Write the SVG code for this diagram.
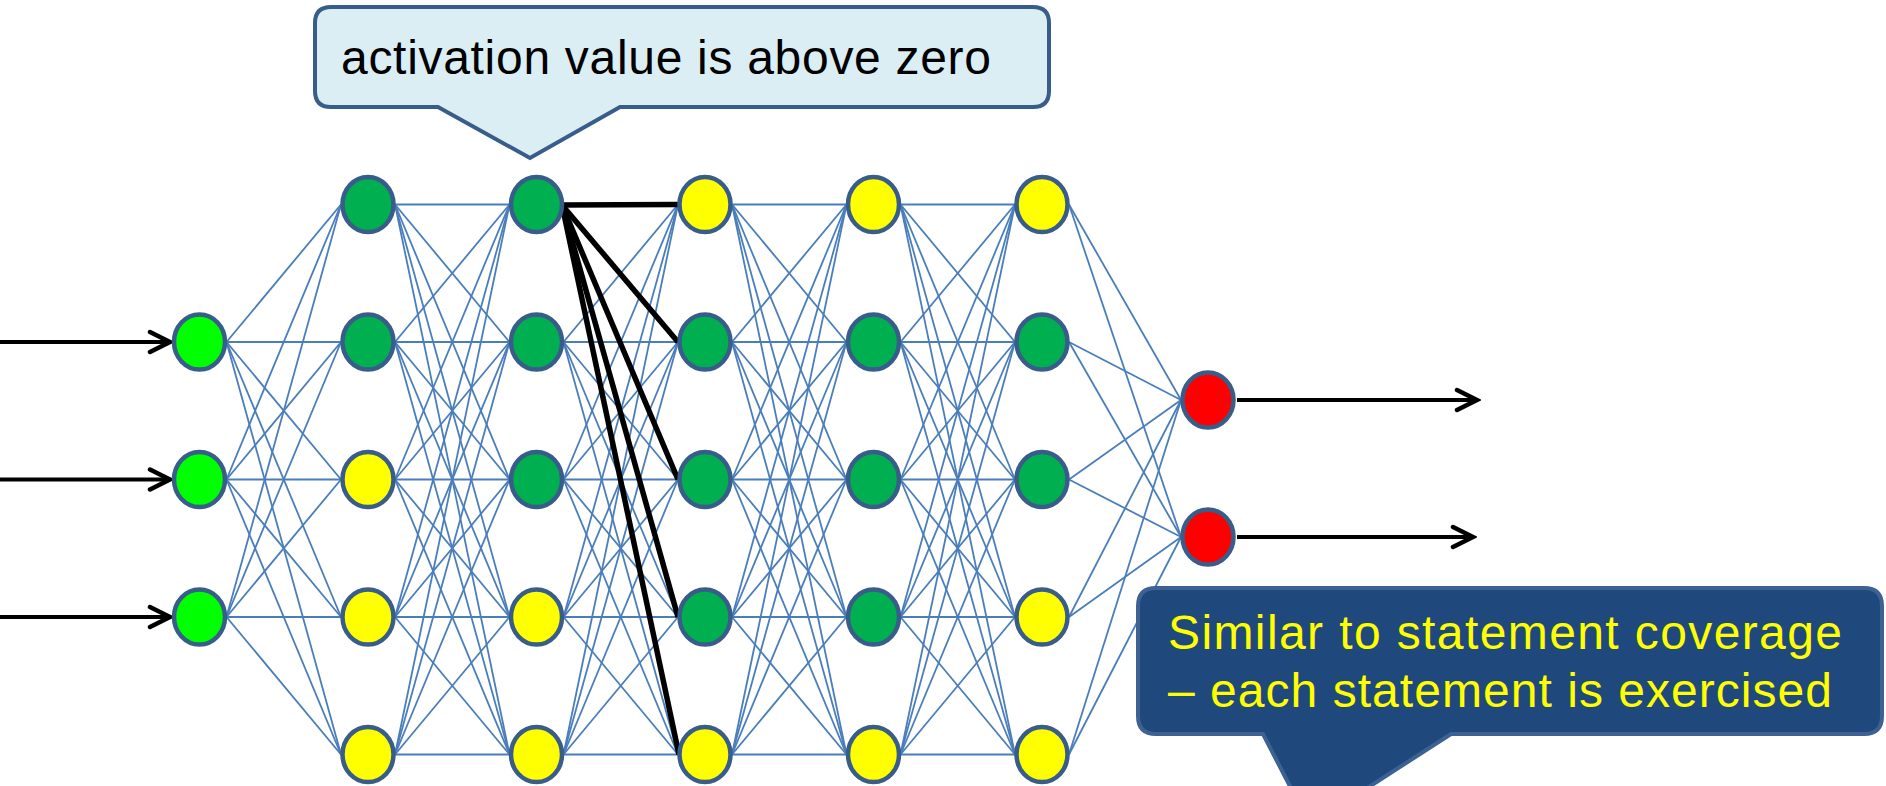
<svg xmlns="http://www.w3.org/2000/svg" width="1886" height="786" viewBox="0 0 1886 786">
<style>
.c line{stroke:#4a7ebb;stroke-width:1.8}
.k line{stroke:#000;stroke-width:5.5}
.n{stroke:#385d8a;stroke-width:4.5}
.in{fill:#00ff00}.dg{fill:#00b050}.ye{fill:#ffff00}.rd{fill:#ff0000}
.a{stroke:#000;stroke-width:4;fill:none}
.t{font-family:"Liberation Sans","DejaVu Sans",sans-serif;font-size:48px}
</style>
<defs>
<marker id="arr" viewBox="-26 -15 30 30" refX="0" refY="0" markerWidth="30" markerHeight="30" markerUnits="userSpaceOnUse" orient="auto">
<path d="M-20,-10 L0,0 L-20,10" fill="none" stroke="#000" stroke-width="4.5" stroke-linecap="round"/>
</marker>
</defs>
<rect width="1886" height="786" fill="#fff"/>
<g id="connectors">
<g class="c">
<line x1="226.5" y1="342" x2="341" y2="204.5"/><line x1="226.5" y1="342" x2="341" y2="342"/><line x1="226.5" y1="342" x2="341" y2="479.5"/><line x1="226.5" y1="342" x2="341" y2="617"/><line x1="226.5" y1="342" x2="341" y2="754.5"/>
<line x1="226.5" y1="479.5" x2="341" y2="204.5"/><line x1="226.5" y1="479.5" x2="341" y2="342"/><line x1="226.5" y1="479.5" x2="341" y2="479.5"/><line x1="226.5" y1="479.5" x2="341" y2="617"/><line x1="226.5" y1="479.5" x2="341" y2="754.5"/>
<line x1="226.5" y1="617" x2="341" y2="204.5"/><line x1="226.5" y1="617" x2="341" y2="342"/><line x1="226.5" y1="617" x2="341" y2="479.5"/><line x1="226.5" y1="617" x2="341" y2="617"/><line x1="226.5" y1="617" x2="341" y2="754.5"/>

<line x1="395" y1="204.5" x2="509.5" y2="204.5"/><line x1="395" y1="204.5" x2="509.5" y2="342"/><line x1="395" y1="204.5" x2="509.5" y2="479.5"/><line x1="395" y1="204.5" x2="509.5" y2="617"/><line x1="395" y1="204.5" x2="509.5" y2="754.5"/>
<line x1="395" y1="342" x2="509.5" y2="204.5"/><line x1="395" y1="342" x2="509.5" y2="342"/><line x1="395" y1="342" x2="509.5" y2="479.5"/><line x1="395" y1="342" x2="509.5" y2="617"/><line x1="395" y1="342" x2="509.5" y2="754.5"/>
<line x1="395" y1="479.5" x2="509.5" y2="204.5"/><line x1="395" y1="479.5" x2="509.5" y2="342"/><line x1="395" y1="479.5" x2="509.5" y2="479.5"/><line x1="395" y1="479.5" x2="509.5" y2="617"/><line x1="395" y1="479.5" x2="509.5" y2="754.5"/>
<line x1="395" y1="617" x2="509.5" y2="204.5"/><line x1="395" y1="617" x2="509.5" y2="342"/><line x1="395" y1="617" x2="509.5" y2="479.5"/><line x1="395" y1="617" x2="509.5" y2="617"/><line x1="395" y1="617" x2="509.5" y2="754.5"/>
<line x1="395" y1="754.5" x2="509.5" y2="204.5"/><line x1="395" y1="754.5" x2="509.5" y2="342"/><line x1="395" y1="754.5" x2="509.5" y2="479.5"/><line x1="395" y1="754.5" x2="509.5" y2="617"/><line x1="395" y1="754.5" x2="509.5" y2="754.5"/>

<line x1="563.5" y1="342" x2="678" y2="204.5"/><line x1="563.5" y1="342" x2="678" y2="342"/><line x1="563.5" y1="342" x2="678" y2="479.5"/><line x1="563.5" y1="342" x2="678" y2="617"/><line x1="563.5" y1="342" x2="678" y2="754.5"/>
<line x1="563.5" y1="479.5" x2="678" y2="204.5"/><line x1="563.5" y1="479.5" x2="678" y2="342"/><line x1="563.5" y1="479.5" x2="678" y2="479.5"/><line x1="563.5" y1="479.5" x2="678" y2="617"/><line x1="563.5" y1="479.5" x2="678" y2="754.5"/>
<line x1="563.5" y1="617" x2="678" y2="204.5"/><line x1="563.5" y1="617" x2="678" y2="342"/><line x1="563.5" y1="617" x2="678" y2="479.5"/><line x1="563.5" y1="617" x2="678" y2="617"/><line x1="563.5" y1="617" x2="678" y2="754.5"/>
<line x1="563.5" y1="754.5" x2="678" y2="204.5"/><line x1="563.5" y1="754.5" x2="678" y2="342"/><line x1="563.5" y1="754.5" x2="678" y2="479.5"/><line x1="563.5" y1="754.5" x2="678" y2="617"/><line x1="563.5" y1="754.5" x2="678" y2="754.5"/>

<line x1="732" y1="204.5" x2="846.5" y2="204.5"/><line x1="732" y1="204.5" x2="846.5" y2="342"/><line x1="732" y1="204.5" x2="846.5" y2="479.5"/><line x1="732" y1="204.5" x2="846.5" y2="617"/><line x1="732" y1="204.5" x2="846.5" y2="754.5"/>
<line x1="732" y1="342" x2="846.5" y2="204.5"/><line x1="732" y1="342" x2="846.5" y2="342"/><line x1="732" y1="342" x2="846.5" y2="479.5"/><line x1="732" y1="342" x2="846.5" y2="617"/><line x1="732" y1="342" x2="846.5" y2="754.5"/>
<line x1="732" y1="479.5" x2="846.5" y2="204.5"/><line x1="732" y1="479.5" x2="846.5" y2="342"/><line x1="732" y1="479.5" x2="846.5" y2="479.5"/><line x1="732" y1="479.5" x2="846.5" y2="617"/><line x1="732" y1="479.5" x2="846.5" y2="754.5"/>
<line x1="732" y1="617" x2="846.5" y2="204.5"/><line x1="732" y1="617" x2="846.5" y2="342"/><line x1="732" y1="617" x2="846.5" y2="479.5"/><line x1="732" y1="617" x2="846.5" y2="617"/><line x1="732" y1="617" x2="846.5" y2="754.5"/>
<line x1="732" y1="754.5" x2="846.5" y2="204.5"/><line x1="732" y1="754.5" x2="846.5" y2="342"/><line x1="732" y1="754.5" x2="846.5" y2="479.5"/><line x1="732" y1="754.5" x2="846.5" y2="617"/><line x1="732" y1="754.5" x2="846.5" y2="754.5"/>

<line x1="900.5" y1="204.5" x2="1015" y2="204.5"/><line x1="900.5" y1="204.5" x2="1015" y2="342"/><line x1="900.5" y1="204.5" x2="1015" y2="479.5"/><line x1="900.5" y1="204.5" x2="1015" y2="617"/><line x1="900.5" y1="204.5" x2="1015" y2="754.5"/>
<line x1="900.5" y1="342" x2="1015" y2="204.5"/><line x1="900.5" y1="342" x2="1015" y2="342"/><line x1="900.5" y1="342" x2="1015" y2="479.5"/><line x1="900.5" y1="342" x2="1015" y2="617"/><line x1="900.5" y1="342" x2="1015" y2="754.5"/>
<line x1="900.5" y1="479.5" x2="1015" y2="204.5"/><line x1="900.5" y1="479.5" x2="1015" y2="342"/><line x1="900.5" y1="479.5" x2="1015" y2="479.5"/><line x1="900.5" y1="479.5" x2="1015" y2="617"/><line x1="900.5" y1="479.5" x2="1015" y2="754.5"/>
<line x1="900.5" y1="617" x2="1015" y2="204.5"/><line x1="900.5" y1="617" x2="1015" y2="342"/><line x1="900.5" y1="617" x2="1015" y2="479.5"/><line x1="900.5" y1="617" x2="1015" y2="617"/><line x1="900.5" y1="617" x2="1015" y2="754.5"/>
<line x1="900.5" y1="754.5" x2="1015" y2="204.5"/><line x1="900.5" y1="754.5" x2="1015" y2="342"/><line x1="900.5" y1="754.5" x2="1015" y2="479.5"/><line x1="900.5" y1="754.5" x2="1015" y2="617"/><line x1="900.5" y1="754.5" x2="1015" y2="754.5"/>

<line x1="1069" y1="204.5" x2="1181" y2="400"/><line x1="1069" y1="204.5" x2="1181" y2="537"/>
<line x1="1069" y1="342" x2="1181" y2="400"/><line x1="1069" y1="342" x2="1181" y2="537"/>
<line x1="1069" y1="479.5" x2="1181" y2="400"/><line x1="1069" y1="479.5" x2="1181" y2="537"/>
<line x1="1069" y1="617" x2="1181" y2="400"/><line x1="1069" y1="617" x2="1181" y2="537"/>
<line x1="1069" y1="754.5" x2="1181" y2="400"/><line x1="1069" y1="754.5" x2="1181" y2="537"/>
</g>
<g class="k">
<line x1="562" y1="205" x2="678" y2="204.5"/>
<line x1="562" y1="205" x2="678" y2="342"/>
<line x1="562" y1="205" x2="678" y2="479.5"/>
<line x1="562" y1="205" x2="678" y2="617"/>
<line x1="562" y1="205" x2="679" y2="754.5"/>
</g>
<g id="io-arrows">
<line class="a" x1="0" y1="342" x2="170" y2="342" marker-end="url(#arr)"/>
<line class="a" x1="0" y1="479.5" x2="170" y2="479.5" marker-end="url(#arr)"/>
<line class="a" x1="0" y1="617" x2="170" y2="617" marker-end="url(#arr)"/>
<line class="a" x1="1237" y1="400" x2="1477" y2="400" marker-end="url(#arr)"/>
<line class="a" x1="1237" y1="537" x2="1473" y2="537" marker-end="url(#arr)"/>
</g>
</g>
<g id="input-layer">
<ellipse id="i1" class="n in" cx="199.5" cy="342" rx="25.5" ry="27.5"/>
<ellipse id="i2" class="n in" cx="199.5" cy="479.5" rx="25.5" ry="27.5"/>
<ellipse id="i3" class="n in" cx="199.5" cy="617" rx="25.5" ry="27.5"/>
</g>
<g id="layer1">
<ellipse id="a1" class="n dg" cx="368" cy="204.5" rx="25.5" ry="27.5"/>
<ellipse id="a2" class="n dg" cx="368" cy="342" rx="25.5" ry="27.5"/>
<ellipse id="a3" class="n ye" cx="368" cy="479.5" rx="25.5" ry="27.5"/>
<ellipse id="a4" class="n ye" cx="368" cy="617" rx="25.5" ry="27.5"/>
<ellipse id="a5" class="n ye" cx="368" cy="754.5" rx="25.5" ry="27.5"/>
</g>
<g id="layer2">
<ellipse id="b1" class="n dg" cx="536.5" cy="204.5" rx="25.5" ry="27.5"/>
<ellipse id="b2" class="n dg" cx="536.5" cy="342" rx="25.5" ry="27.5"/>
<ellipse id="b3" class="n dg" cx="536.5" cy="479.5" rx="25.5" ry="27.5"/>
<ellipse id="b4" class="n ye" cx="536.5" cy="617" rx="25.5" ry="27.5"/>
<ellipse id="b5" class="n ye" cx="536.5" cy="754.5" rx="25.5" ry="27.5"/>
</g>
<g id="layer3">
<ellipse id="c1" class="n ye" cx="705" cy="204.5" rx="25.5" ry="27.5"/>
<ellipse id="c2" class="n dg" cx="705" cy="342" rx="25.5" ry="27.5"/>
<ellipse id="c3" class="n dg" cx="705" cy="479.5" rx="25.5" ry="27.5"/>
<ellipse id="c4" class="n dg" cx="705" cy="617" rx="25.5" ry="27.5"/>
<ellipse id="c5" class="n ye" cx="705" cy="754.5" rx="25.5" ry="27.5"/>
</g>
<g id="layer4">
<ellipse id="d1" class="n ye" cx="873.5" cy="204.5" rx="25.5" ry="27.5"/>
<ellipse id="d2" class="n dg" cx="873.5" cy="342" rx="25.5" ry="27.5"/>
<ellipse id="d3" class="n dg" cx="873.5" cy="479.5" rx="25.5" ry="27.5"/>
<ellipse id="d4" class="n dg" cx="873.5" cy="617" rx="25.5" ry="27.5"/>
<ellipse id="d5" class="n ye" cx="873.5" cy="754.5" rx="25.5" ry="27.5"/>
</g>
<g id="layer5">
<ellipse id="e1" class="n ye" cx="1042" cy="204.5" rx="25.5" ry="27.5"/>
<ellipse id="e2" class="n dg" cx="1042" cy="342" rx="25.5" ry="27.5"/>
<ellipse id="e3" class="n dg" cx="1042" cy="479.5" rx="25.5" ry="27.5"/>
<ellipse id="e4" class="n ye" cx="1042" cy="617" rx="25.5" ry="27.5"/>
<ellipse id="e5" class="n ye" cx="1042" cy="754.5" rx="25.5" ry="27.5"/>
</g>
<g id="output-layer">
<ellipse id="o1" class="n rd" cx="1208" cy="400" rx="25.5" ry="27.5"/>
<ellipse id="o2" class="n rd" cx="1208" cy="537" rx="25.5" ry="27.5"/>
</g>
<g id="callout-activation">
<path d="M331,7 H1033 Q1049,7 1049,23 V91 Q1049,107 1033,107 H620 L530,158 L438,107 H331 Q315,107 315,91 V23 Q315,7 331,7 Z" fill="#dbeef4" stroke="#385d8a" stroke-width="4" stroke-linejoin="miter"/>
<text class="t" x="341" y="74" fill="#000" textLength="650">activation value is above zero</text>
</g>
<g id="callout-coverage">
<path d="M1156,588 H1864 Q1882,588 1882,606 V716 Q1882,734 1864,734 H1451 L1310,825 L1263,734 H1156 Q1138,734 1138,716 V606 Q1138,588 1156,588 Z" fill="#1f497d" stroke="#3d6192" stroke-width="4"/>
<text class="t" x="1168" y="649" fill="#ffff00" textLength="674">Similar to statement coverage</text>
<text class="t" x="1168" y="707" fill="#ffff00" textLength="664">– each statement is exercised</text>
</g>
</svg>
